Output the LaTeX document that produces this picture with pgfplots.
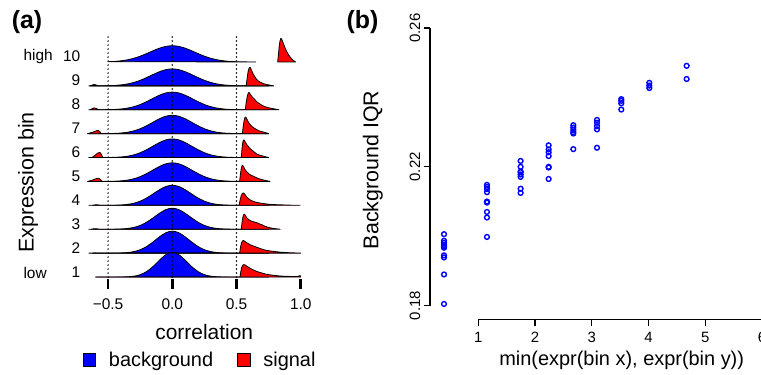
\documentclass[border=0pt]{standalone}
\usepackage{pgfplots}
\pgfplotsset{compat=1.18}
\usepackage{pgfplotstable}
\usepackage{fontspec}
\setmainfont{Liberation Sans}

\pgfplotstableread{
x      r1    r2    r3    r4    r5    r6    r7    r8    r9    r10
-0.65  0     0     0     0     0     0     0     0     0     0.001
-0.60  0     0     0     0     0     0     0     0     0.001 0.002
-0.55  0     0     0     0     0.001 0.001 0.001 0.002 0.003 0.005
-0.50  0     0     0.001 0.002 0.003 0.003 0.004 0.006 0.008 0.011
-0.45  0     0.002 0.003 0.005 0.010 0.010 0.011 0.014 0.019 0.024
-0.40  0.002 0.008 0.011 0.015 0.024 0.024 0.026 0.032 0.040 0.048
-0.35  0.010 0.023 0.031 0.039 0.055 0.055 0.058 0.068 0.079 0.090
-0.30  0.034 0.062 0.075 0.087 0.111 0.111 0.116 0.128 0.141 0.154
-0.25  0.097 0.141 0.158 0.174 0.202 0.202 0.206 0.218 0.232 0.242
-0.20  0.227 0.277 0.294 0.307 0.328 0.328 0.331 0.339 0.347 0.351
-0.15  0.440 0.468 0.475 0.477 0.479 0.479 0.479 0.477 0.474 0.469
-0.10  0.706 0.682 0.669 0.653 0.628 0.628 0.624 0.609 0.593 0.577
-0.05  0.937 0.854 0.822 0.789 0.739 0.739 0.730 0.705 0.679 0.652
 0.00  1.030 0.920 0.880 0.840 0.780 0.780 0.770 0.740 0.710 0.680
 0.05  0.937 0.854 0.822 0.789 0.739 0.739 0.730 0.705 0.679 0.652
 0.10  0.706 0.682 0.669 0.653 0.628 0.628 0.624 0.609 0.593 0.577
 0.15  0.440 0.468 0.475 0.477 0.479 0.479 0.479 0.477 0.474 0.469
 0.20  0.227 0.277 0.294 0.307 0.328 0.328 0.331 0.339 0.347 0.351
 0.25  0.097 0.141 0.158 0.174 0.202 0.202 0.206 0.218 0.232 0.242
 0.30  0.034 0.062 0.075 0.087 0.111 0.111 0.116 0.128 0.141 0.154
 0.35  0.010 0.023 0.031 0.039 0.055 0.055 0.058 0.068 0.079 0.090
 0.40  0.002 0.008 0.011 0.015 0.024 0.024 0.026 0.032 0.040 0.048
 0.45  0     0.002 0.003 0.005 0.010 0.010 0.011 0.014 0.019 0.024
 0.50  0     0     0.001 0.002 0.003 0.003 0.004 0.006 0.008 0.011
 0.55  0     0     0     0     0.001 0.001 0.001 0.002 0.003 0.005
 0.60  0     0     0     0     0     0     0     0     0.001 0.002
 0.65  0     0     0     0     0     0     0     0     0     0.001
 0.70  0     0     0     0     0     0     0     0     0     0
 0.75  0     0     0     0     0     0     0     0     0     0
}\bluetab

\pgfplotstableread{
x      y
0.396  0.2006
0.396  0.1987
0.396  0.1981
0.396  0.1975
0.396  0.1970
0.396  0.1967
0.396  0.1945
0.396  0.1939
0.396  0.1890
0.396  0.1805
1.153  0.2148
1.153  0.2142
1.153  0.2136
1.153  0.2127
1.153  0.2100
1.153  0.2097
1.153  0.2070
1.153  0.2054
1.153  0.1998
1.746  0.2217
1.746  0.2200
1.746  0.2186
1.746  0.2185
1.746  0.2178
1.746  0.2171
1.746  0.2137
1.746  0.2125
2.240  0.2262
2.240  0.2250
2.240  0.2242
2.240  0.2231
2.240  0.2200
2.240  0.2198
2.240  0.2165
2.675  0.2320
2.675  0.2313
2.675  0.2306
2.675  0.2300
2.675  0.2296
2.675  0.2251
3.092  0.2335
3.092  0.2327
3.092  0.2317
3.092  0.2308
3.092  0.2255
3.520  0.2395
3.520  0.2390
3.520  0.2383
3.520  0.2365
4.014  0.2442
4.014  0.2434
4.014  0.2427
4.672  0.2491
4.672  0.2453
}\iqrtab

\begin{document}
\begin{tikzpicture}
\path[use as bounding box] (0,0) rectangle (761bp,375bp);

% ---------------- panel (a) ----------------
\begin{axis}[
  at={(82.4bp,95.6bp)}, anchor=south west,
  scale only axis, width=224.8bp, height=246.1bp,
  xmin=-0.7, xmax=1.05, ymin=0.9, ymax=11.2,
  clip=false,
  axis line style={draw=none},
  xtick={-0.5,0,0.5,1}, xticklabels={−0.5,0.0,0.5,1.0},
  xtick pos=left, tick align=outside,
  x tick style={black, line width=2.6bp},
  major tick length=9.5bp,
  xticklabel style={font=\fontsize{15.5}{18}\selectfont, yshift=-6.5bp},
  ytick={1,2,3,4,5,6,7,8,9,10},
  yticklabels={1,2,3,4,5,6,7,8,9,10},
  y tick style={draw=none},
  yticklabel style={font=\fontsize{15.5}{18}\selectfont, anchor=base east, inner sep=0pt, xshift=7.6bp},
  legend columns=2,
  legend image code/.code={\draw[line width=0.8bp,#1] (0bp,-6.2bp) rectangle (12.5bp,6.2bp);},
  legend style={draw=none, fill=none, inner sep=0pt, outer sep=0pt,
    at={(axis description cs:0.0013,-0.3275)}, anchor=west,
    column sep=13bp, /tikz/every even column/.append style={column sep=24bp},
    font=\fontsize{20}{24}\selectfont, nodes={inner sep=0pt}},
  every axis plot/.append style={line join=round},
]
\addlegendimage{fill=blue, draw=black}
\addlegendentry{background}
\addlegendimage{fill=red, draw=black}
\addlegendentry{signal}

% row 10
\addplot[fill=blue, draw=black, line width=0.8bp, smooth, restrict x to domain=-0.5:0.66, forget plot]
  table[x=x, y expr=\thisrow{r10}+10] {\bluetab} -- cycle;
\addplot[fill=red, draw=black, line width=0.8bp, y filter/.expression={y+10}, forget plot] coordinates {
 (0.82,0) (0.826,0.3) (0.832,0.65) (0.838,0.88) (0.845,0.99) (0.852,0.95) (0.86,0.84)
 (0.87,0.70) (0.88,0.56) (0.89,0.44) (0.90,0.34) (0.915,0.22) (0.93,0.12) (0.945,0.05) (0.96,0)} -- cycle;
% row 9
\addplot[fill=blue, draw=black, line width=0.8bp, smooth, forget plot]
  table[x=x, y expr=\thisrow{r9}+9] {\bluetab} -- cycle;
\addplot[fill=red, draw=black, line width=0.8bp, y filter/.expression={y+9}, forget plot] coordinates {
 (-0.64,0) (-0.625,0.03) (-0.61,0.06) (-0.595,0.04) (-0.58,0.01) (-0.56,0) (0.575,0)
 (0.582,0.3) (0.59,0.6) (0.598,0.75) (0.605,0.78) (0.615,0.68) (0.625,0.55) (0.64,0.40)
 (0.655,0.28) (0.67,0.2) (0.69,0.14) (0.71,0.09) (0.73,0.06) (0.75,0.04) (0.77,0.02) (0.79,0)} -- cycle;
% row 8
\addplot[fill=blue, draw=black, line width=0.8bp, smooth, forget plot]
  table[x=x, y expr=\thisrow{r8}+8] {\bluetab} -- cycle;
\addplot[fill=red, draw=black, line width=0.8bp, y filter/.expression={y+8}, forget plot] coordinates {
 (-0.64,0) (-0.625,0.04) (-0.61,0.08) (-0.595,0.06) (-0.58,0.02) (-0.56,0) (0.568,0)
 (0.575,0.3) (0.583,0.55) (0.59,0.68) (0.597,0.73) (0.607,0.65) (0.62,0.55) (0.635,0.47)
 (0.65,0.38) (0.665,0.3) (0.68,0.25) (0.70,0.18) (0.72,0.13) (0.74,0.1) (0.76,0.07)
 (0.78,0.05) (0.80,0.03) (0.83,0)} -- cycle;
% row 7
\addplot[fill=blue, draw=black, line width=0.8bp, smooth, forget plot]
  table[x=x, y expr=\thisrow{r7}+7] {\bluetab} -- cycle;
\addplot[fill=red, draw=black, line width=0.8bp, y filter/.expression={y+7}, forget plot] coordinates {
 (-0.66,0) (-0.64,0.03) (-0.62,0.06) (-0.60,0.10) (-0.585,0.13) (-0.575,0.13) (-0.565,0.08)
 (-0.555,0.02) (-0.545,0) (0.545,0) (0.552,0.3) (0.559,0.55) (0.565,0.67) (0.571,0.70)
 (0.58,0.62) (0.59,0.5) (0.605,0.38) (0.62,0.3) (0.64,0.22) (0.66,0.16) (0.68,0.11)
 (0.70,0.08) (0.72,0.05) (0.75,0)} -- cycle;
% row 6
\addplot[fill=blue, draw=black, line width=0.8bp, smooth, forget plot]
  table[x=x, y expr=\thisrow{r6}+6] {\bluetab} -- cycle;
\addplot[fill=red, draw=black, line width=0.8bp, y filter/.expression={y+6}, forget plot] coordinates {
 (-0.63,0) (-0.615,0.04) (-0.60,0.1) (-0.585,0.17) (-0.57,0.21) (-0.56,0.2) (-0.55,0.1)
 (-0.54,0) (0.537,0) (0.542,0.35) (0.548,0.62) (0.553,0.72) (0.558,0.74) (0.565,0.68)
 (0.575,0.58) (0.59,0.47) (0.605,0.38) (0.62,0.31) (0.64,0.22) (0.66,0.14) (0.68,0.1)
 (0.70,0.07) (0.72,0.04) (0.75,0)} -- cycle;
% row 5
\addplot[fill=blue, draw=black, line width=0.8bp, smooth, forget plot]
  table[x=x, y expr=\thisrow{r5}+5] {\bluetab} -- cycle;
\addplot[fill=red, draw=black, line width=0.8bp, y filter/.expression={y+5}, forget plot] coordinates {
 (-0.66,0) (-0.64,0.03) (-0.62,0.06) (-0.60,0.10) (-0.585,0.13) (-0.572,0.13) (-0.56,0.08)
 (-0.55,0.02) (-0.54,0) (0.524,0) (0.53,0.3) (0.537,0.55) (0.543,0.66) (0.548,0.68)
 (0.556,0.6) (0.567,0.49) (0.58,0.4) (0.595,0.32) (0.61,0.27) (0.63,0.22) (0.65,0.17)
 (0.67,0.12) (0.69,0.09) (0.71,0.06) (0.735,0.03) (0.76,0)} -- cycle;
% row 4
\addplot[fill=blue, draw=black, line width=0.8bp, smooth, forget plot]
  table[x=x, y expr=\thisrow{r4}+4] {\bluetab} -- cycle;
\addplot[fill=red, draw=black, line width=0.8bp, y filter/.expression={y+4}, forget plot] coordinates {
 (-0.62,0) (-0.60,0.02) (-0.58,0.02) (-0.56,0) (0.52,0) (0.527,0.2) (0.535,0.38)
 (0.544,0.49) (0.553,0.52) (0.562,0.48) (0.572,0.4) (0.585,0.32) (0.60,0.25) (0.615,0.2)
 (0.63,0.17) (0.65,0.13) (0.67,0.11) (0.70,0.08) (0.73,0.06) (0.76,0.04) (0.80,0.03)
 (0.85,0.02) (0.90,0.01) (0.995,0)} -- cycle;
% row 3
\addplot[fill=blue, draw=black, line width=0.8bp, smooth, forget plot]
  table[x=x, y expr=\thisrow{r3}+3] {\bluetab} -- cycle;
\addplot[fill=red, draw=black, line width=0.8bp, y filter/.expression={y+3}, forget plot] coordinates {
 (-0.63,0) (-0.61,0.02) (-0.59,0.02) (-0.57,0) (0.537,0) (0.543,0.3) (0.55,0.52)
 (0.555,0.6) (0.56,0.63) (0.567,0.6) (0.575,0.52) (0.585,0.45) (0.60,0.38) (0.62,0.33)
 (0.64,0.3) (0.66,0.27) (0.68,0.22) (0.70,0.18) (0.72,0.13) (0.74,0.09) (0.76,0.06)
 (0.79,0.03) (0.84,0)} -- cycle;
% row 2
\addplot[fill=blue, draw=black, line width=0.8bp, smooth, forget plot]
  table[x=x, y expr=\thisrow{r2}+2] {\bluetab} -- cycle;
\addplot[fill=red, draw=black, line width=0.8bp, y filter/.expression={y+2}, forget plot] coordinates {
 (-0.62,0) (-0.60,0.01) (-0.58,0) (0.524,0) (0.53,0.22) (0.537,0.4) (0.545,0.5)
 (0.553,0.53) (0.563,0.5) (0.575,0.45) (0.59,0.4) (0.61,0.34) (0.63,0.3) (0.65,0.26)
 (0.67,0.22) (0.69,0.18) (0.72,0.13) (0.75,0.1) (0.79,0.07) (0.84,0.04) (0.90,0.02)
 (0.95,0.01) (1.0,0)} -- cycle;
% row 1
\addplot[fill=blue, draw=black, line width=0.8bp, smooth, restrict x to domain=-0.6:0.75, forget plot]
  table[x=x, y expr=\thisrow{r1}+1] {\bluetab} -- cycle;
\addplot[fill=red, draw=black, line width=0.8bp, y filter/.expression={y+1}, forget plot] coordinates {
 (-0.59,0) (0.527,0) (0.533,0.22) (0.54,0.4) (0.549,0.5) (0.558,0.52) (0.567,0.5)
 (0.578,0.46) (0.59,0.42) (0.61,0.35) (0.63,0.3) (0.65,0.25) (0.67,0.21) (0.69,0.18)
 (0.72,0.13) (0.75,0.1) (0.79,0.07) (0.84,0.04) (0.89,0.03) (0.94,0.02) (0.97,0.02)
 (0.985,0.04) (0.995,0.06) (1.0,0)} -- cycle;

% dotted reference lines
\draw[black, line width=1.7bp, line cap=round, dash pattern=on 0bp off 4bp] (axis cs:-0.5,1) -- (axis cs:-0.5,11.05);
\draw[black, line width=1.7bp, line cap=round, dash pattern=on 0bp off 4bp] (axis cs:0,1) -- (axis cs:0,11.05);
\draw[black, line width=1.7bp, line cap=round, dash pattern=on 0bp off 4bp] (axis cs:0.5,1) -- (axis cs:0.5,11.05);
\end{axis}

% ---------------- panel (b) ----------------
\begin{axis}[
  at={(430bp,55.7bp)}, anchor=south west,
  scale only axis, width=332bp, height=299.3bp,
  xmin=0.149, xmax=6.0, ymin=0.17608, ymax=0.2623,
  clip=false,
  axis line style={draw=none},
  xtick={1,2,3,4,5,6}, xticklabels={1,2,3,4,5,6},
  ytick={0.18,0.22,0.26}, yticklabels={0.18,0.22,0.26},
  scaled y ticks=false,
  xtick pos=left, ytick pos=left, tick align=outside,
  tick style={black, line width=1.3bp}, major tick length=6.5bp,
  xticklabel style={font=\fontsize{15}{18}\selectfont, yshift=-3bp},
  yticklabel style={font=\fontsize{15}{18}\selectfont, rotate=90, anchor=south, inner sep=3bp},
]
\addplot[only marks, mark=o, color=blue, mark size=2.4bp, mark options={line width=1.4bp}]
  table[x=x, y=y] {\iqrtab};
\draw[black, line width=1.3bp] (axis cs:1,0.17608) -- (axis cs:6,0.17608);
\draw[black, line width=1.3bp] (axis cs:0.149,0.18) -- (axis cs:0.149,0.26);
\end{axis}

% ---------------- labels ----------------
\node[font=\bfseries\fontsize{25}{30}\selectfont, inner sep=0pt] at (27bp,352.5bp) {(a)};
\node[font=\bfseries\fontsize{25}{30}\selectfont, inner sep=0pt] at (362.5bp,353.3bp) {(b)};
\node[font=\fontsize{15.5}{18}\selectfont, inner sep=0pt, anchor=base west] at (23.3bp,314.3bp) {high};
\node[font=\fontsize{15.5}{18}\selectfont, inner sep=0pt, anchor=base west] at (23.3bp,96bp) {low};
\node[font=\fontsize{21.5}{26}\selectfont, inner sep=0pt, anchor=base, rotate=90] at (33.7bp,192.5bp) {Expression bin};
\node[font=\fontsize{21}{26}\selectfont, inner sep=0pt, anchor=base] at (204.2bp,35.7bp) {correlation};
\node[font=\fontsize{21.5}{26}\selectfont, inner sep=0pt, anchor=base, rotate=90] at (378.3bp,205bp) {Background IQR};
\node[font=\fontsize{20}{24}\selectfont, inner sep=0pt, anchor=base] at (621.7bp,9.7bp) {min(expr(bin x), expr(bin y))};
\end{tikzpicture}
\end{document}
